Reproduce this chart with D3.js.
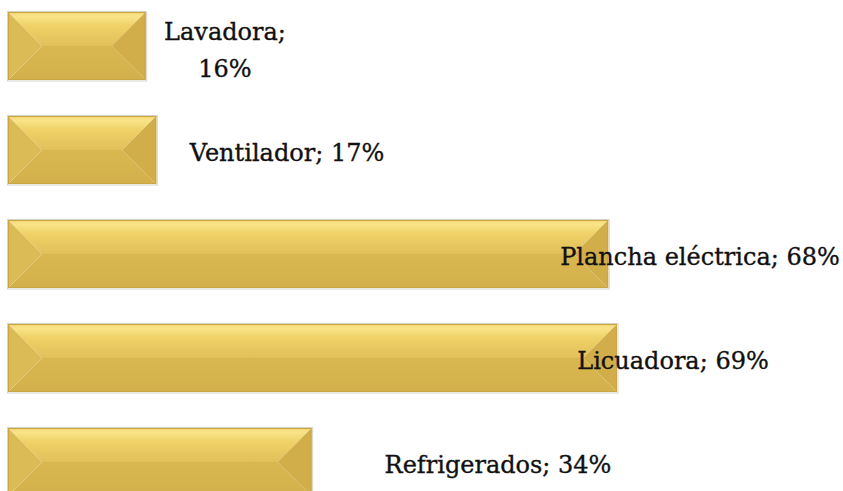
<!DOCTYPE html>
<html>
<head>
<meta charset="utf-8">
<script src="https://cdn.jsdelivr.net/npm/d3@7"></script>
<style>
  html, body { margin: 0; padding: 0; background: #fff; }
  svg { display: block; }
</style>
</head>
<body>
<svg id="chart" width="843" height="491"></svg>
<script>
// ---- data ----
const categories = ["Lavadora", "Ventilador", "Plancha eléctrica", "Licuadora", "Refrigerados"];
const values = [0.156, 0.168, 0.68, 0.69, 0.344];
const labelWrap = [true, false, false, false, false];
// label centre positions (layout, manually placed in the original)
const labelCenterX = [225, 287, 700, 673, 498];

const W = 843, H = 491;
const svg = d3.select("#chart");

const x = d3.scaleLinear().domain([0, 0.69]).range([8, 617]);
const y = d3.scaleBand().domain(categories).range([12, 496]).paddingInner(36 / 104).paddingOuter(0);

const defs = svg.append("defs");
const g1 = defs.append("linearGradient").attr("id", "topGrad")
  .attr("x1", 0).attr("y1", 0).attr("x2", 0).attr("y2", 1);
g1.append("stop").attr("offset", "0%").attr("stop-color", "#f2d670");
g1.append("stop").attr("offset", "12%").attr("stop-color", "#fae48a");
g1.append("stop").attr("offset", "40%").attr("stop-color", "#efd268");
g1.append("stop").attr("offset", "100%").attr("stop-color", "#e0c05a");

const g2 = defs.append("linearGradient").attr("id", "botGrad")
  .attr("x1", 0).attr("y1", 0).attr("x2", 0).attr("y2", 1);
g2.append("stop").attr("offset", "0%").attr("stop-color", "#d9b750");
g2.append("stop").attr("offset", "100%").attr("stop-color", "#d3b04b");

const fmt = d3.format(".0%");
const data = categories.map((c, i) => ({ cat: c, v: values[i], wrap: labelWrap[i], lx: labelCenterX[i] }));

const bars = svg.append("g").selectAll("g").data(data).join("g");

bars.each(function (d) {
  const gEl = d3.select(this);
  const x0 = x(0), x1 = x(d.v);
  const y0 = y(d.cat), y1 = y0 + y.bandwidth();
  const h = y.bandwidth();
  const ym = y0 + h / 2;
  const b = Math.min(h / 2, (x1 - x0) / 2);
  const pts = a => a.map(p => p.join(",")).join(" ");
  // soft outer shadow
  gEl.append("rect").attr("x", x0 - 0.5).attr("y", y0 - 0.5).attr("width", x1 - x0 + 1.5).attr("height", h + 1.5)
    .attr("fill", "none").attr("stroke", "#d6d3c8").attr("stroke-width", 1);
  // bottom trapezoid
  gEl.append("polygon").attr("points", pts([[x0, y1], [x1, y1], [x1 - b, ym], [x0 + b, ym]]))
    .attr("fill", "url(#botGrad)");
  // top trapezoid
  gEl.append("polygon").attr("points", pts([[x0, y0], [x1, y0], [x1 - b, ym], [x0 + b, ym]]))
    .attr("fill", "url(#topGrad)");
  // left triangle
  gEl.append("polygon").attr("points", pts([[x0, y0], [x0 + b, ym], [x0, y1]]))
    .attr("fill", "#dbbb56");
  // right triangle
  gEl.append("polygon").attr("points", pts([[x1, y0], [x1 - b, ym], [x1, y1]]))
    .attr("fill", "#d1ae4a");
  // border
  gEl.append("rect").attr("x", x0 + 0.5).attr("y", y0 + 0.5).attr("width", x1 - x0 - 1).attr("height", h - 1)
    .attr("fill", "none").attr("stroke", "#c9a544").attr("stroke-width", 1);
});

const labels = svg.append("g")
  .attr("font-family", "'DejaVu Serif', serif")
  .attr("font-size", 24)
  .attr("fill", "#111")
  .attr("stroke", "#111")
  .attr("stroke-width", 0.35)
  .attr("text-anchor", "middle")
  .selectAll("text").data(data).join("text")
  .attr("x", d => d.lx)
  .attr("y", d => y(d.cat) + y.bandwidth() / 2 + 3)
  .attr("dominant-baseline", "central");

labels.each(function (d) {
  const t = d3.select(this);
  if (d.wrap) {
    t.append("tspan").attr("x", d.lx).attr("dy", "-0.72em").text(d.cat + ";");
    t.append("tspan").attr("x", d.lx).attr("dy", "1.55em").text(fmt(d.v));
  } else {
    t.text(d.cat + "; " + fmt(d.v));
  }
});
</script>
</body>
</html>
